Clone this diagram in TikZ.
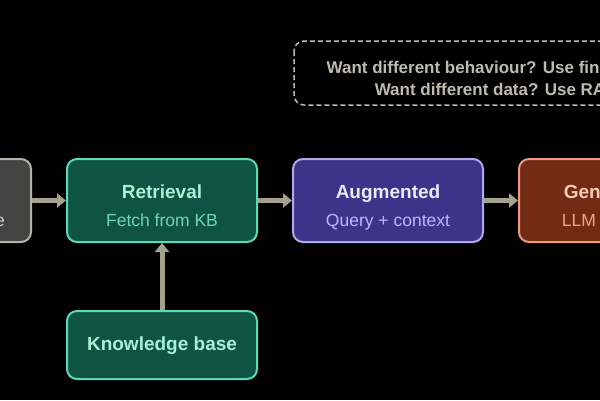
\documentclass[tikz,border=0pt]{standalone}
\usepackage{fontspec}
\setmainfont{Liberation Sans}
\usetikzlibrary{arrows.meta}
\usetikzlibrary{positioning}

\definecolor{inputfill}{HTML}{444441}
\definecolor{inputline}{HTML}{B4B2A9}
\definecolor{inputtext}{HTML}{D3D1C7}
\definecolor{kbfill}{HTML}{0F5443}
\definecolor{kbline}{HTML}{5DD9B8}
\definecolor{kbtitle}{HTML}{A6F0D4}
\definecolor{kbtext}{HTML}{6FD6B0}
\definecolor{augfill}{HTML}{3C3489}
\definecolor{augline}{HTML}{AFA9EC}
\definecolor{augtitle}{HTML}{ECE9FF}
\definecolor{augtext}{HTML}{BDB6FF}
\definecolor{genfill}{HTML}{712B13}
\definecolor{genline}{HTML}{F0997B}
\definecolor{gentitle}{HTML}{F8CCB4}
\definecolor{gentext}{HTML}{F0A283}
\definecolor{arrowgray}{HTML}{A3A28C}
\definecolor{notegray}{HTML}{BDBBAC}

% title line over a smaller second line
\newcommand{\stagelabel}[3]{{\color{#1}\bfseries\fontsize{19}{28}\selectfont #2}\\#3}

\begin{document}
\begin{tikzpicture}[x=1pt,y=-1pt,
    stage/.style={draw,line width=2pt,rounded corners=10pt,anchor=north west,
        minimum width=190pt,minimum height=83pt,inner sep=0pt,align=center,
        text height=51pt,text depth=0pt,font=\fontsize{17.5}{28}\selectfont},
    flow/.style={draw=arrowgray,line width=5pt,-{Triangle[length=9pt,width=14pt]}}
    ]
    \useasboundingbox (0,0) rectangle (600,400);
    \fill[black] (0,0) rectangle (600,400);
    \clip (0,0) rectangle (600,400);

    % note box
    \draw[notegray,line width=1.5pt,dash pattern=on 5pt off 3pt,rounded corners=10pt]
        (294,41) rectangle (720,105);
    \node[text=notegray,align=center,font=\bfseries\fontsize{17}{22}\selectfont] (note) at (499,78)
        {Want different behaviour? Use fine-tuning.\\Want different data? Use RAG.};

    % pipeline
    \node[stage,fill=inputfill,draw=inputline,text=inputtext,minimum width=165pt] (query) at (-135,158)
        {\stagelabel{inputtext}{Query}{User message}};
    \node[stage,fill=kbfill,draw=kbline,text=kbtext] (retrieval) at (66,158)
        {\stagelabel{kbtitle}{Retrieval}{Fetch from KB}};
    \node[stage,fill=augfill,draw=augline,text=augtext] (augmented) at (292,158)
        {\stagelabel{augtitle}{Augmented}{Query + context}};
    \node[stage,fill=genfill,draw=genline,text=gentext] (generation) at (518,158)
        {\stagelabel{gentitle}{Generation}{LLM answers}};

    \node[stage,fill=kbfill,draw=kbline,text=kbtitle,minimum height=68pt,text height=14pt,text depth=4pt,
        font=\bfseries\fontsize{19}{23}\selectfont] (kb) at (66,310) {Knowledge base};

    \draw[flow] (query.east) -- (retrieval.west);
    \draw[flow] (retrieval.east) -- (augmented.west);
    \draw[flow] (augmented.east) -- (generation.west);
    \draw[flow] (kb.north) -- (retrieval.south);
\end{tikzpicture}
\end{document}
